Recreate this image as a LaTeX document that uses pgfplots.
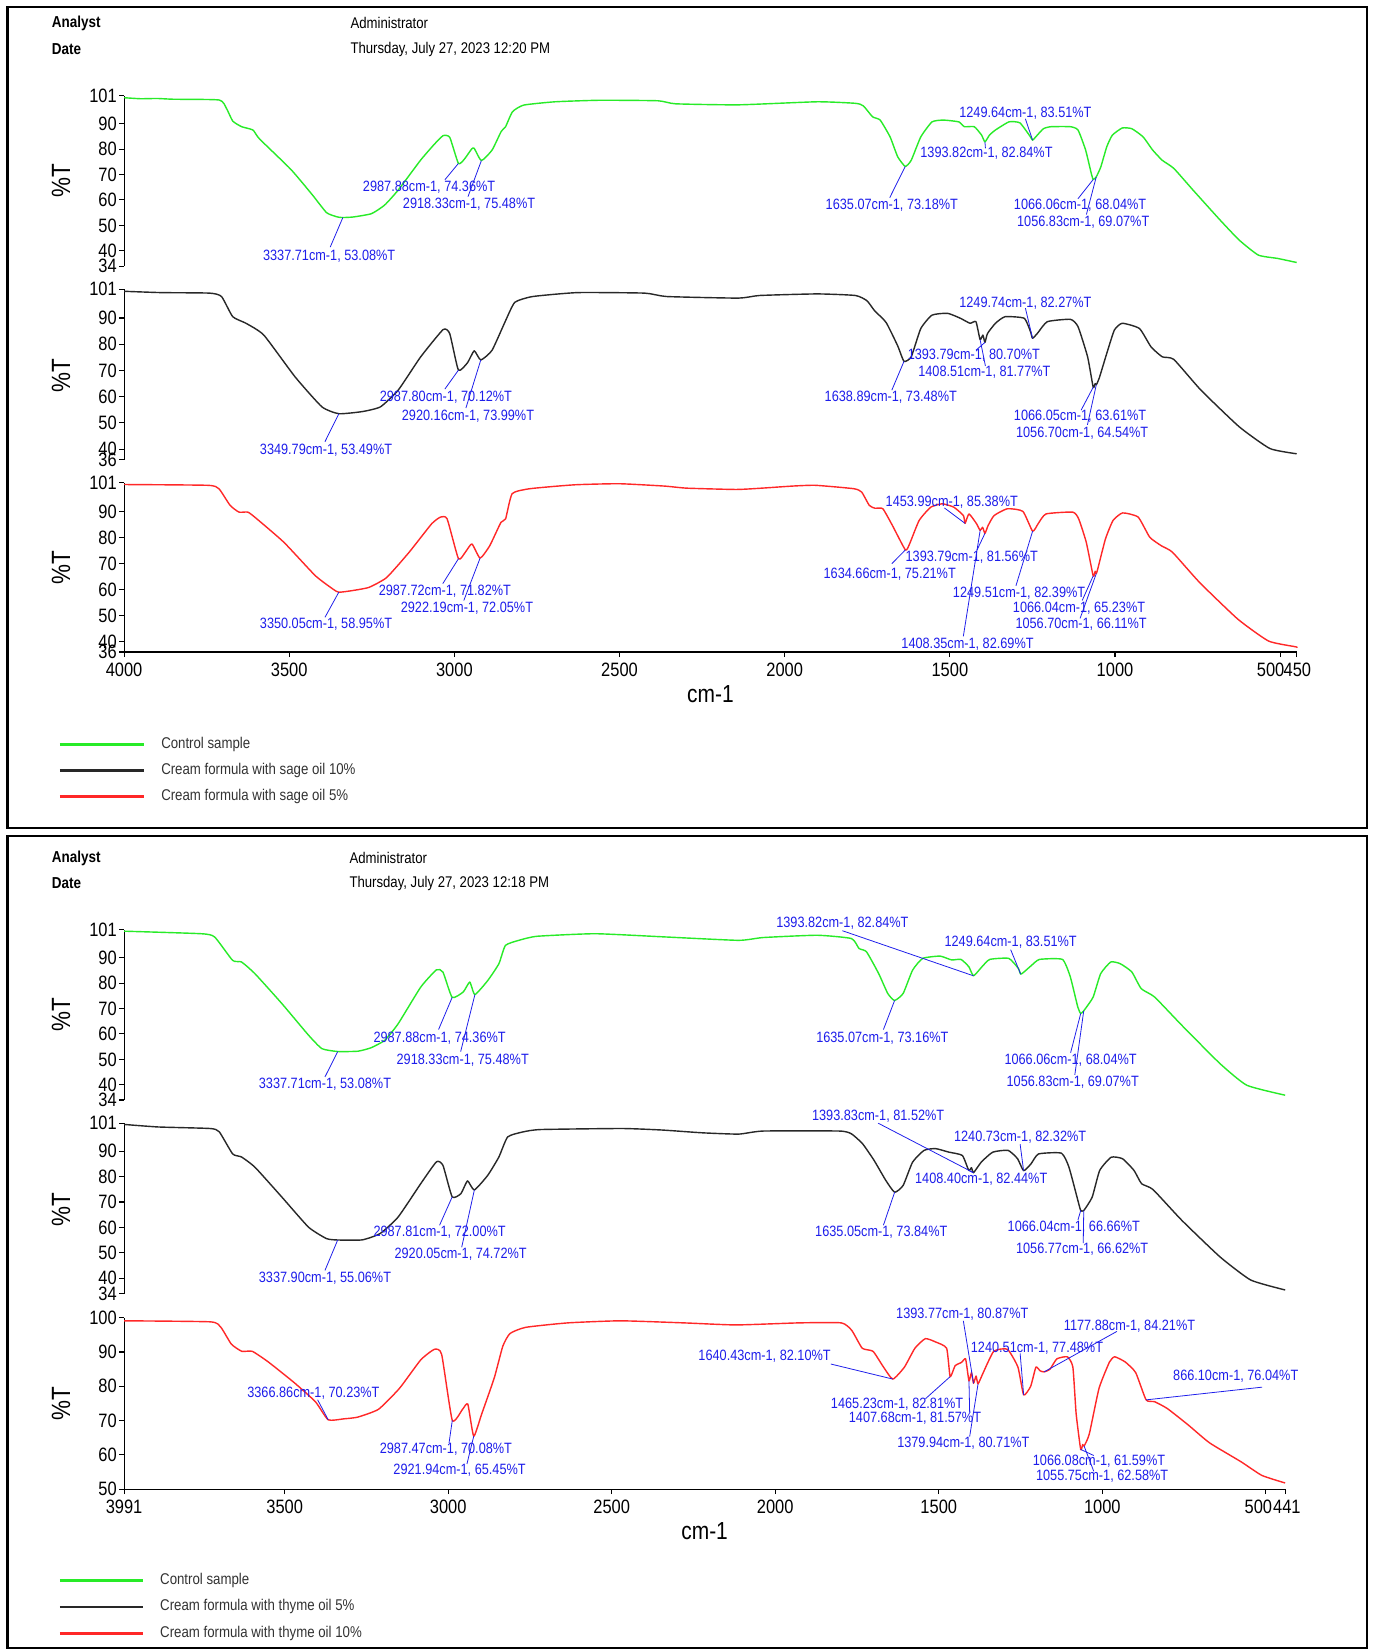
\documentclass[border=0pt]{standalone}
\usepackage{pgfplots}
\pgfplotsset{compat=1.18}
\usepackage{fontspec}
\setmainfont{Liberation Sans}[FakeStretch=0.85]
\definecolor{cgreen}{RGB}{40,235,40}
\definecolor{cblack}{RGB}{40,40,40}
\definecolor{cred}{RGB}{255,40,40}
\definecolor{cblue}{RGB}{30,30,235}
\pgfplotsset{
  ftir/.style={
    scale only axis, x dir=reverse, clip=false,
    axis y line*=left,
    axis line style={black, line width=0.6pt, -},
    tick style={black, line width=0.6pt},
    tick align=outside, major tick length=1mm,
    /pgf/number format/assume math mode=true,
    ticklabel style={font=\fontsize{11}{12}\selectfont},
    yticklabel style={inner xsep=0.4mm, inner ysep=0pt},
    every axis plot/.append style={smooth, tension=0.3, line width=0.8pt, line join=round},
  },
  ftirtop/.style={ftir, hide x axis},
  ftirbot/.style={ftir, axis x line*=bottom,
    xlabel={cm-1},
    xlabel style={font=\fontsize{14}{15}\selectfont, at={(axis description cs:0.5,0)}, anchor=center, yshift=-8.4mm}},
}
\tikzset{
  annline/.style={cblue, line width=0.45pt},
  annlab/.style={text=cblue, inner sep=0pt, font=\fontsize{8.5}{10}\selectfont},
}
\newcommand\ann[6]{\draw[annline] (#1) -- (#2,#3); \node[annlab] at (#4,#5) {#6};}
\begin{document}
\begin{tikzpicture}
\path[use as bounding box] (0,0) rectangle (274.26mm,329.28mm);
\fill[white] (0,0) rectangle (274.26mm,329.28mm);

% ================= PANEL 1 =================
\begin{axis}[ftirtop, at={(24.78mm,276.15mm)}, anchor=south west, width=234.15mm, height=34.02mm,
  xmin=450, xmax=4000, ymin=34, ymax=101, ytick={34,40,50,60,70,80,90,101}]
\addplot[cgreen] coordinates {
(4000,100.2)(3950,99.8)(3900,99.9)(3850,99.6)(3712,99.3)(3690,96)(3671,91)(3644,88.8)(3610,87.5)(3590,84)
(3495,72)(3430,62)(3387,55)(3354,53.3)(3337.71,53.08)(3306,53.3)(3251,54.6)(3211,58)(3170,63.9)(3102,75.7)
(3060,82)(3034,85.3)(3014,84.6)(2987.88,74.36)(2970,76)(2948,80)(2940,80.3)(2918.33,75.48)(2886,79.6)(2858,87)
(2845,88.8)(2824,94.7)(2790,97.3)(2695,98.6)(2560,99.2)(2384,99)(2330,97.8)(2140,97.4)(1902,98.6)(1786,98)
(1762,97)(1734,92.7)(1711,91.4)(1681,84.8)(1658,77)(1635.07,73.18)(1617,75.6)(1588,84.8)(1554,90.7)(1519,91.4)
(1473,90.7)(1456,88.8)(1426,88.8)(1404,85.5)(1393.82,82.84)(1380,85.5)(1362,87.5)(1321,90.7)(1288,90.3)(1257,85)
(1249.64,83.51)(1240,84.8)(1217,88)(1194,88.8)(1135,88.8)(1112,87.5)(1089,79.6)(1072,70.5)(1066.06,68.04)(1056.83,69.07)
(1043,73)(1025,80.9)(1008,85.5)(978,88.3)(949,88)(915,84.8)(886,79.6)(857,75.6)(822,72.4)(764,63.9)
(682,52.1)(624,44.2)(566,38.3)(508,37)(450,35.4)};
\coordinate (p1ga) at (axis cs:2987.88,74.36);
\coordinate (p1gb) at (axis cs:2918.33,75.48);
\coordinate (p1gc) at (axis cs:3337.71,53.08);
\coordinate (p1gd) at (axis cs:1635.07,73.18);
\coordinate (p1ge) at (axis cs:1393.82,82.84);
\coordinate (p1gf) at (axis cs:1249.64,83.51);
\coordinate (p1gg) at (axis cs:1066.06,68.04);
\coordinate (p1gh) at (axis cs:1056.83,69.07);
\end{axis}

\begin{axis}[ftirtop, at={(24.78mm,237.51mm)}, anchor=south west, width=234.15mm, height=34.02mm,
  xmin=450, xmax=4000, ymin=36, ymax=101, ytick={36,40,50,60,70,80,90,101}]
\addplot[cblack] coordinates {
(4000,100.2)(3888,99.7)(3741,99.5)(3705,98.2)(3671,90.5)(3631,88)(3577,83.5)(3482,67.5)(3401,56.1)(3349.79,53.49)
(3279,54.3)(3224,56.1)(3170,62.5)(3102,75.2)(3034,85.6)(3014,84)(2987.80,70.12)(2960,73)(2940,77.5)(2920.16,73.99)
(2886,77.7)(2845,89)(2817,96)(2763,98.2)(2627,99.7)(2424,99.5)(2357,98.2)(2140,97.6)(2076,98.6)(1902,99.2)
(1786,98.6)(1751,96.6)(1728,92.8)(1693,88.3)(1658,79.4)(1638.89,73.48)(1617,75.2)(1588,86)(1554,91.1)(1507,91.8)
(1468,89.9)(1439,88)(1421,88.6)(1408.51,81.77)(1400,83.5)(1393.79,80.70)(1386,84.1)(1362,88)(1333,90.5)(1275,89.9)
(1255,84.5)(1249.74,82.27)(1234,84.3)(1205,88.6)(1135,89.5)(1112,86.7)(1083,75.2)(1066.05,63.61)(1060,65)(1056.70,64.54)
(1048,67)(1025,76.5)(1002,85.4)(978,88)(926,86)(891,79)(857,75.2)(822,74.2)(740,62.5)(624,48.5)
(531,40.2)(450,38.2)};
\coordinate (p1ba) at (axis cs:2987.80,70.12);
\coordinate (p1bb) at (axis cs:2920.16,73.99);
\coordinate (p1bc) at (axis cs:3349.79,53.49);
\coordinate (p1bd) at (axis cs:1638.89,73.48);
\coordinate (p1be) at (axis cs:1393.79,80.70);
\coordinate (p1bf) at (axis cs:1408.51,81.77);
\coordinate (p1bg) at (axis cs:1249.74,82.27);
\coordinate (p1bh) at (axis cs:1066.05,63.61);
\coordinate (p1bi) at (axis cs:1056.70,64.54);
\end{axis}

\begin{axis}[ftirbot, at={(24.78mm,199.08mm)}, anchor=south west, width=234.15mm, height=33.81mm,
  xmin=450, xmax=4000, ymin=36, ymax=101, ytick={36,40,50,60,70,80,90,101},
  xtick={4000,3500,3000,2500,2000,1500,1000,500,450},
  xticklabels={4000,3500,3000,2500,2000,1500,1000,{\makebox[0pt][r]{500\kern-0.84mm}},{\makebox[0pt][l]{\kern-2.6mm 450}}}]
\addplot[cred] coordinates {
(4000,100.3)(3747,100)(3713,98.7)(3679,92.3)(3652,89.7)(3625,89.7)(3598,87.1)(3516,78.1)(3421,65.3)(3367,60.1)
(3350.05,58.95)(3313,59.5)(3259,60.8)(3205,64.6)(3137,74.3)(3069,85.2)(3042,87.8)(3022,87.1)(2987.72,71.82)(2967,74.3)
(2947,77.5)(2922.19,72.05)(2893,76.8)(2859,85.8)(2845,87.1)(2825,96.8)(2771,98.7)(2635,100.2)(2500,100.6)(2364,99.7)
(2296,98.9)(2147,98.4)(2070,98.9)(1977,99.7)(1907,100)(1791,98.7)(1767,97.4)(1744,92.3)(1727,91.2)(1703,91)
(1674,84.6)(1634.66,75.21)(1622,77.5)(1593,86.5)(1558,91.6)(1523,92.9)(1488,91.6)(1459,88.4)(1453.99,85.38)(1442,89)
(1419,85.2)(1408.35,82.69)(1401,83.9)(1393.79,81.56)(1384,84.6)(1366,88.4)(1326,91)(1279,90)(1249.51,82.39)(1233,85.2)
(1209,89)(1128,89.7)(1110,87.1)(1087,78.1)(1066.04,65.23)(1060,67)(1056.70,66.11)(1052,68)(1029,79.4)(1006,86.5)
(977,89.4)(930,87.8)(895,80.1)(860,76.8)(826,74.3)(744,62.7)(628,48.6)(535,40.2)(453,38)(450,37.8)};
\coordinate (p1ra) at (axis cs:2987.72,71.82);
\coordinate (p1rb) at (axis cs:2922.19,72.05);
\coordinate (p1rc) at (axis cs:3350.05,58.95);
\coordinate (p1rd) at (axis cs:1453.99,85.38);
\coordinate (p1re) at (axis cs:1393.79,81.56);
\coordinate (p1rf) at (axis cs:1634.66,75.21);
\coordinate (p1rg) at (axis cs:1249.51,82.39);
\coordinate (p1rh) at (axis cs:1066.04,65.23);
\coordinate (p1ri) at (axis cs:1056.70,66.11);
\coordinate (p1rj) at (axis cs:1408.35,82.69);
\end{axis}

% ================= PANEL 2 =================
\begin{axis}[ftirtop, at={(24.78mm,109.62mm)}, anchor=south west, width=231.84mm, height=34.02mm,
  xmin=441, xmax=3991, ymin=34, ymax=101, ytick={34,40,50,60,70,80,90,101}]
\addplot[cgreen] coordinates {
(3991,100.4)(3755,99.4)(3714,98.1)(3659,88.9)(3632,88.3)(3591,83.7)(3509,72)(3427,59.5)(3386,54.2)(3337.71,53.08)
(3276,53.2)(3235,54.6)(3194,57.5)(3153,64)(3084,78.4)(3036,85.2)(3016,84.3)(2987.88,74.36)(2954,76.5)(2934,80.4)
(2918.33,75.48)(2879,81)(2845,87.6)(2825,94.8)(2784,96.8)(2728,98.4)(2550,99.4)(2331,98.1)(2112,96.8)(2037,97.9)
(1872,98.8)(1767,97.5)(1744,93.6)(1721,92.3)(1684,83.8)(1656,75.9)(1635.07,73.16)(1609,75.9)(1580,85.1)(1549,89.7)
(1496,90.6)(1461,89.1)(1432,89.3)(1408,86.4)(1393.82,82.84)(1368,86.4)(1344,89.3)(1286,89.7)(1257,85.8)(1249.64,83.51)
(1239,84.4)(1216,87)(1192,89.3)(1122,89.3)(1098,82.5)(1075,70.6)(1066.06,68.04)(1056.83,69.07)(1052,69.9)(1028,74.5)
(1005,83.7)(974,88.3)(945,87.6)(910,84.4)(881,77.8)(840,74.5)(757,63.4)(640,48.3)(558,39.8)(441,35.9)};
\coordinate (p2ga) at (axis cs:1393.82,82.84);
\coordinate (p2gb) at (axis cs:1249.64,83.51);
\coordinate (p2gc) at (axis cs:1635.07,73.16);
\coordinate (p2gd) at (axis cs:2987.88,74.36);
\coordinate (p2ge) at (axis cs:2918.33,75.48);
\coordinate (p2gf) at (axis cs:3337.71,53.08);
\coordinate (p2gg) at (axis cs:1066.06,68.04);
\coordinate (p2gh) at (axis cs:1056.83,69.07);
\end{axis}

\begin{axis}[ftirtop, at={(24.78mm,70.98mm)}, anchor=south west, width=231.84mm, height=34.02mm,
  xmin=441, xmax=3991, ymin=34, ymax=101, ytick={34,40,50,60,70,80,90,101}]
\addplot[cblack] coordinates {
(3991,100.5)(3886,99.5)(3728,98.9)(3700,97.6)(3659,88.9)(3632,87.7)(3591,83.7)(3509,72)(3427,60.1)(3372,55.6)
(3337.90,55.06)(3263,55.1)(3208,57.6)(3153,64.1)(3084,77.2)(3036,85.8)(3016,84.4)(2987.81,72.00)(2961,73.3)(2941,78.3)
(2920.05,74.72)(2879,80.5)(2845,87.7)(2818,95.6)(2770,97.6)(2716,98.5)(2469,98.9)(2346,98.3)(2222,97.2)(2112,96.7)
(2037,97.9)(1804,97.9)(1767,96.8)(1733,92.9)(1698,86.4)(1662,78.5)(1635.05,73.84)(1609,76.5)(1580,85.7)(1545,90.3)
(1510,91)(1469,89.6)(1428,88.3)(1408.40,82.44)(1400,83.5)(1393.83,81.52)(1370,85.7)(1335,89.6)(1288,90.3)(1259,87)
(1240.73,82.32)(1218,85)(1195,88.9)(1125,89.2)(1102,83.7)(1072,69.3)(1066.04,66.66)(1056.77,66.62)(1031,71.9)(1008,82.4)
(973,87.6)(938,87)(903,82.4)(880,77.2)(845,74.9)(757,62.8)(640,48.4)(546,39.3)(441,35.4)};
\coordinate (p2ba) at (axis cs:1393.83,81.52);
\coordinate (p2bb) at (axis cs:1240.73,82.32);
\coordinate (p2bc) at (axis cs:1408.40,82.44);
\coordinate (p2bd) at (axis cs:1635.05,73.84);
\coordinate (p2be) at (axis cs:2987.81,72.00);
\coordinate (p2bf) at (axis cs:2920.05,74.72);
\coordinate (p2bg) at (axis cs:3337.90,55.06);
\coordinate (p2bh) at (axis cs:1066.04,66.66);
\coordinate (p2bi) at (axis cs:1056.77,66.62);
\end{axis}

\begin{axis}[ftirbot, at={(24.78mm,31.92mm)}, anchor=south west, width=231.84mm, height=34.23mm,
  xmin=441, xmax=3991, ymin=50, ymax=100, ytick={50,60,70,80,90,100},
  xtick={3991,3500,3000,2500,2000,1500,1000,500,441},
  xticklabels={3991,3500,3000,2500,2000,1500,1000,{\makebox[0pt][r]{500\kern-1.26mm}},{\makebox[0pt][l]{\kern-2.4mm 441}}}]
\addplot[cred] coordinates {
(3991,99.1)(3727,98.8)(3695,97.2)(3663,92.3)(3631,90.2)(3599,90.2)(3550,87.1)(3470,81)(3406,75.5)(3366.86,70.23)
(3320,70.5)(3277,71)(3213,73.3)(3149,79.4)(3084,87.7)(3042,90.8)(3020,89.3)(2987.47,70.08)(2956,73.3)(2940,74.8)
(2921.94,65.45)(2898,71.8)(2859,82.5)(2833,91.7)(2811,95.4)(2763,97.2)(2634,98.5)(2473,99.1)(2280,98.5)(2120,97.9)
(1927,98.5)(1798,98.5)(1766,96.3)(1734,91.1)(1701,90.2)(1669,85.6)(1640.43,82.10)(1605,85.6)(1573,91.1)(1541,93.9)
(1509,92.9)(1476,91.1)(1465.23,82.81)(1450,86)(1430,87)(1418,88)(1407.68,81.57)(1400,84)(1393.77,80.87)(1386,83)
(1379.94,80.71)(1364,84)(1332,90.2)(1290,90.8)(1258,85.6)(1240.51,77.48)(1219,80)(1203,85.6)(1190,84.5)(1177.88,84.21)
(1160,85)(1139,88)(1107,88.6)(1090,85.6)(1080,72)(1066.08,61.59)(1060,63)(1055.75,62.58)(1040,66)(1010,79.4)
(978,87.1)(962,88.6)(930,87.1)(898,84)(866.10,76.04)(840,75.5)(801,73.5)(737,68.7)(672,63.5)(576,58)
(512,54)(441,51.8)};
\coordinate (p2ra) at (axis cs:1393.77,80.87);
\coordinate (p2rb) at (axis cs:1177.88,84.21);
\coordinate (p2rc) at (axis cs:1240.51,77.48);
\coordinate (p2rd) at (axis cs:1640.43,82.10);
\coordinate (p2re) at (axis cs:3366.86,70.23);
\coordinate (p2rf) at (axis cs:1465.23,82.81);
\coordinate (p2rg) at (axis cs:1407.68,81.57);
\coordinate (p2rh) at (axis cs:1379.94,80.71);
\coordinate (p2ri) at (axis cs:2987.47,70.08);
\coordinate (p2rj) at (axis cs:2921.94,65.45);
\coordinate (p2rk) at (axis cs:1066.08,61.59);
\coordinate (p2rl) at (axis cs:1055.75,62.58);
\coordinate (p2rm) at (axis cs:866.10,76.04);
\end{axis}

% ============ pixel-space overlay ============
\begin{scope}[shift={(0mm,329.28mm)}, x=0.21mm, y=-0.21mm]
\draw[line width=1.3pt] (7,7) rectangle (1300,787);
\draw[line width=1.3pt] (7,795) rectangle (1300,1567);
% y labels
\foreach \yy in {172,357,540,965,1150,1335}
  \node[rotate=90, font=\fontsize{15}{16}\selectfont, inner sep=0pt] at (58,\yy) {\%T};
\begin{scope}[every node/.style={anchor=west, inner sep=0pt}]
\node[font=\fontsize{9}{10}\selectfont\bfseries] at (49,22) {Analyst};
\node[font=\fontsize{9}{10}\selectfont\bfseries] at (49,47) {Date};
\node[font=\fontsize{8.8}{10}\selectfont] at (333,22) {Administrator};
\node[font=\fontsize{8.8}{10}\selectfont] at (333,47) {Thursday, July 27, 2023 12:20 PM};
\node[font=\fontsize{9}{10}\selectfont\bfseries] at (49,816) {Analyst};
\node[font=\fontsize{9}{10}\selectfont\bfseries] at (49,840) {Date};
\node[font=\fontsize{8.8}{10}\selectfont] at (332,816) {Administrator};
\node[font=\fontsize{8.8}{10}\selectfont] at (332,840) {Thursday, July 27, 2023 12:18 PM};
% legends
\draw[cgreen, line width=1.6pt] (57,708) -- (137,708);
\draw[cblack, line width=1.6pt] (57,733) -- (137,733);
\draw[cred, line width=1.6pt] (57,757) -- (137,757);
\node[font=\fontsize{8.85}{10}\selectfont, text=black!80] at (153,708) {Control sample};
\node[font=\fontsize{8.85}{10}\selectfont, text=black!80] at (153,733) {Cream formula with sage oil 10\%};
\node[font=\fontsize{8.85}{10}\selectfont, text=black!80] at (153,757) {Cream formula with sage oil 5\%};
\draw[cgreen, line width=1.6pt] (57,1503) -- (136,1503);
\draw[cblack, line width=1.6pt] (57,1528) -- (136,1528);
\draw[cred, line width=1.6pt] (57,1553) -- (136,1553);
\node[font=\fontsize{8.85}{10}\selectfont, text=black!80] at (152,1503) {Control sample};
\node[font=\fontsize{8.85}{10}\selectfont, text=black!80] at (152,1528) {Cream formula with thyme oil 5\%};
\node[font=\fontsize{8.85}{10}\selectfont, text=black!80] at (152,1553) {Cream formula with thyme oil 10\%};
\end{scope}
% annotations panel 1 green
\ann{p1ga}{423}{171}{408}{178}{2987.88cm-1, 74.36\%T}
\ann{p1gb}{445}{187}{446}{194}{2918.33cm-1, 75.48\%T}
\ann{p1gc}{314}{235}{313}{244}{3337.71cm-1, 53.08\%T}
\ann{p1gd}{846}{188}{848}{195}{1635.07cm-1, 73.18\%T}
\ann{p1ge}{937}{141}{938}{146}{1393.82cm-1, 82.84\%T}
\ann{p1gf}{975}{113}{975}{108}{1249.64cm-1, 83.51\%T}
\ann{p1gg}{1025}{189}{1027}{195}{1066.06cm-1, 68.04\%T}
\ann{p1gh}{1033}{204}{1030}{211}{1056.83cm-1, 69.07\%T}
% panel 1 black
\ann{p1ba}{423}{370}{424}{378}{2987.80cm-1, 70.12\%T}
\ann{p1bb}{443}{388}{445}{396}{2920.16cm-1, 73.99\%T}
\ann{p1bc}{309}{420}{310}{428}{3349.79cm-1, 53.49\%T}
\ann{p1bd}{848}{371}{847}{378}{1638.89cm-1, 73.48\%T}
\ann{p1be}{928}{333}{926}{338}{1393.79cm-1, 80.70\%T}
\ann{p1bf}{937}{348}{936}{354}{1408.51cm-1, 81.77\%T}
\ann{p1bg}{975}{293}{975}{288}{1249.74cm-1, 82.27\%T}
\ann{p1bh}{1028}{390}{1027}{396}{1066.05cm-1, 63.61\%T}
\ann{p1bi}{1034}{404}{1029}{412}{1056.70cm-1, 64.54\%T}
% panel 1 red
\ann{p1ra}{421}{555}{423}{562}{2987.72cm-1, 71.82\%T}
\ann{p1rb}{441}{571}{444}{578}{2922.19cm-1, 72.05\%T}
\ann{p1rc}{309}{587}{310}{594}{3350.05cm-1, 58.95\%T}
\ann{p1rd}{898}{483}{905}{478}{1453.99cm-1, 85.38\%T}
\ann{p1re}{929}{523}{924}{530}{1393.79cm-1, 81.56\%T}
\ann{p1rf}{848}{536}{846}{546}{1634.66cm-1, 75.21\%T}
\ann{p1rg}{966}{557}{969}{564}{1249.51cm-1, 82.39\%T}
\ann{p1rh}{1029}{571}{1026}{578}{1066.04cm-1, 65.23\%T}
\ann{p1ri}{1027}{588}{1028}{594}{1056.70cm-1, 66.11\%T}
\ann{p1rj}{916}{605}{920}{613}{1408.35cm-1, 82.69\%T}
% panel 2 green
\ann{p2ga}{801}{885}{801}{878}{1393.82cm-1, 82.84\%T}
\ann{p2gb}{961}{903}{961}{896}{1249.64cm-1, 83.51\%T}
\ann{p2gc}{840}{979}{839}{987}{1635.07cm-1, 73.16\%T}
\ann{p2gd}{417}{979}{418}{987}{2987.88cm-1, 74.36\%T}
\ann{p2ge}{438}{1000}{440}{1008}{2918.33cm-1, 75.48\%T}
\ann{p2gf}{309}{1024}{309}{1031}{3337.71cm-1, 53.08\%T}
\ann{p2gg}{1018}{1001}{1018}{1008}{1066.06cm-1, 68.04\%T}
\ann{p2gh}{1022}{1022}{1020}{1029}{1056.83cm-1, 69.07\%T}
% panel 2 black
\ann{p2ba}{835}{1068}{835}{1061}{1393.83cm-1, 81.52\%T}
\ann{p2bb}{970}{1088}{970}{1081}{1240.73cm-1, 82.32\%T}
\ann{p2bc}{925}{1115}{933}{1121}{1408.40cm-1, 82.44\%T}
\ann{p2bd}{840}{1165}{838}{1172}{1635.05cm-1, 73.84\%T}
\ann{p2be}{418}{1165}{418}{1172}{2987.81cm-1, 72.00\%T}
\ann{p2bf}{439}{1186}{438}{1193}{2920.05cm-1, 74.72\%T}
\ann{p2bg}{309}{1208}{309}{1215}{3337.90cm-1, 55.06\%T}
\ann{p2bh}{1025}{1160}{1021}{1167}{1066.04cm-1, 66.66\%T}
\ann{p2bi}{1030}{1182}{1029}{1188}{1056.77cm-1, 66.62\%T}
% panel 2 red
\ann{p2ra}{916}{1256}{915}{1250}{1393.77cm-1, 80.87\%T}
\ann{p2rb}{1062}{1266}{1074}{1261}{1177.88cm-1, 84.21\%T}
\ann{p2rc}{970}{1287}{986}{1282}{1240.51cm-1, 77.48\%T}
\ann{p2rd}{790}{1297}{727}{1290}{1640.43cm-1, 82.10\%T}
\ann{p2re}{302}{1331}{298}{1325}{3366.86cm-1, 70.23\%T}
\ann{p2rf}{880}{1330}{853}{1335}{1465.23cm-1, 82.81\%T}
\ann{p2rg}{922}{1343}{870}{1349}{1407.68cm-1, 81.57\%T}
\ann{p2rh}{922}{1366}{916}{1372}{1379.94cm-1, 80.71\%T}
\ann{p2ri}{427}{1372}{424}{1378}{2987.47cm-1, 70.08\%T}
\ann{p2rj}{444}{1392}{437}{1398}{2921.94cm-1, 65.45\%T}
\ann{p2rk}{1040}{1384}{1045}{1389}{1066.08cm-1, 61.59\%T}
\ann{p2rl}{1040}{1399}{1048}{1404}{1055.75cm-1, 62.58\%T}
\ann{p2rm}{1200}{1319}{1175}{1309}{866.10cm-1, 76.04\%T}
\end{scope}
\end{tikzpicture}
\end{document}
